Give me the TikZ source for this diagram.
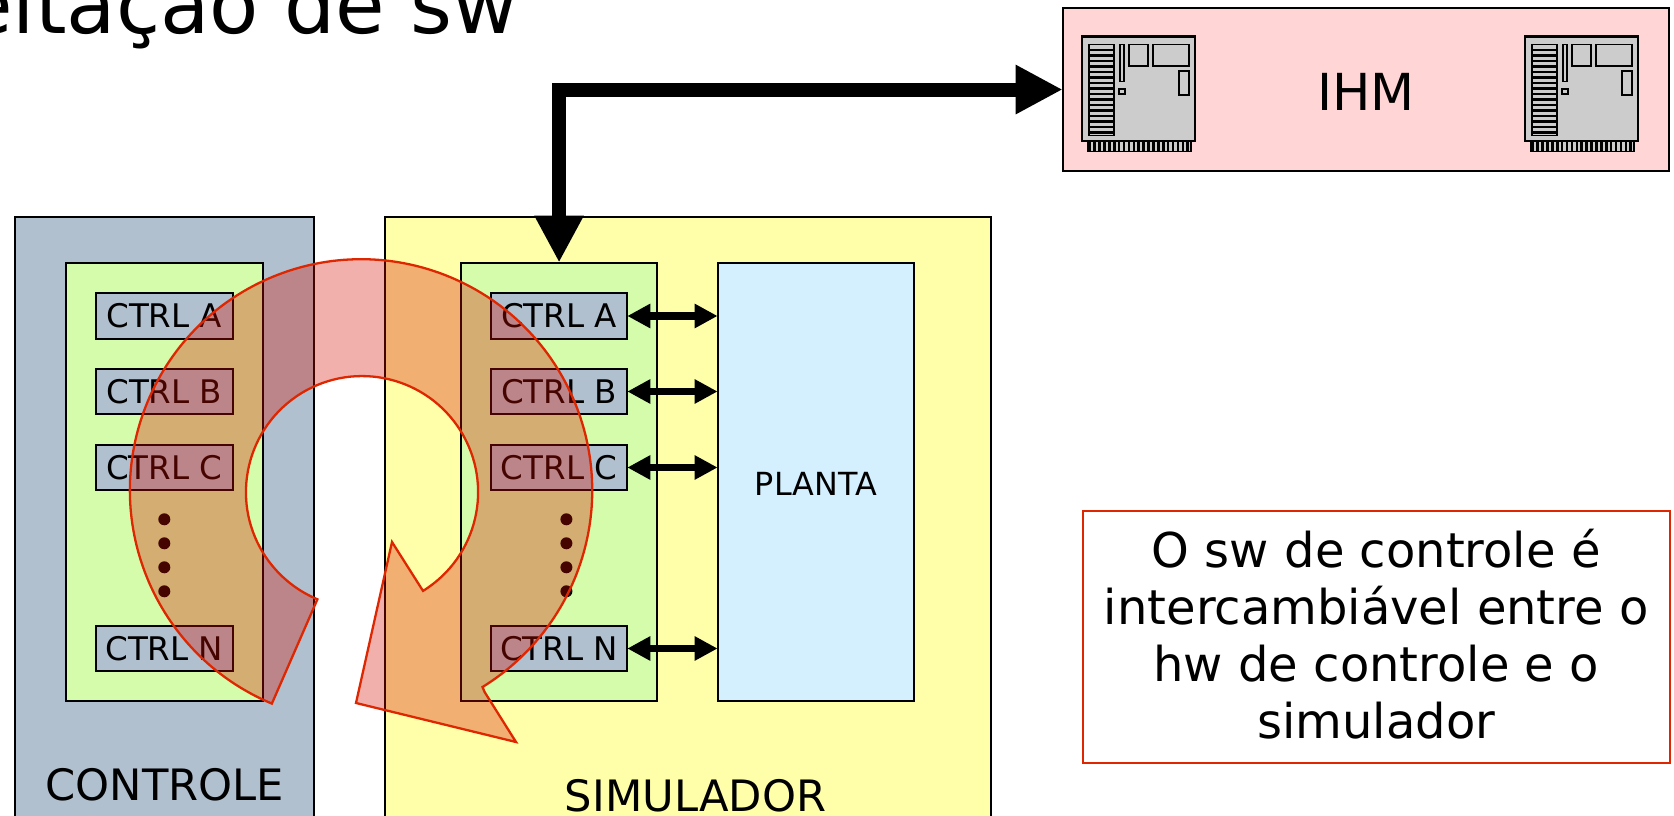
\documentclass[tikz,border=0pt]{standalone}
\usepackage{fontspec}
\setmainfont{DejaVu Sans}
\usetikzlibrary{calc, arrows.meta, positioning}
\definecolor{ctrlblue}{RGB}{177,192,207}
\definecolor{hwgreen}{RGB}{212,252,170}
\definecolor{simyellow}{RGB}{255,255,170}
\definecolor{ihmpink}{RGB}{255,213,213}
\definecolor{plantblue}{RGB}{212,240,255}
\definecolor{cardgray}{RGB}{204,204,204}
\definecolor{ringred}{RGB}{222,38,0}
\definecolor{ringfill}{RGB}{213,15,0}
\tikzset{
  boxbase/.style={draw=black, line width=0.55pt, inner sep=0pt, outer sep=0pt},
  ctrlbox/.style={boxbase, fill=ctrlblue, minimum width=1.365cm, minimum height=0.455cm, font=\fontsize{9.25}{11}\selectfont},
  biglabel/.style={inner sep=0pt, font=\fontsize{12.3}{15}\selectfont, anchor=base},
  linkarrow/.style={{Triangle[length=0.23cm,width=0.23cm]}-{Triangle[length=0.23cm,width=0.23cm]}, line width=2pt},
  busarrow/.style={{Triangle[length=0.47cm,width=0.46cm]}-{Triangle[length=0.47cm,width=0.46cm]}, line width=4pt},
  ringarrow/.style={draw=ringred, line width=0.65pt, fill=ringfill, fill opacity=0.33, line join=miter},
  cpucard/.pic={
    \draw[fill=cardgray, line width=0.55pt] (6,-104.7) rectangle (109,-115);
    \foreach \x in {8,12.9,...,108} {\draw[line width=0.75pt] (\x,-105) -- (\x,-114.6);}
    \draw[fill=cardgray, line width=0.6pt] (0,0) rectangle (113.6,-104.7);
    \draw[fill=cardgray, line width=0.55pt] (7.6,-8) rectangle (32.3,-99);
    \foreach \y in {-13.5,-19,...,-96} {\draw[line width=0.75pt] (7.6,\y) -- (32.3,\y);}
    \draw[line width=0.55pt] (38.3,-8) rectangle (42.6,-45);
    \draw[line width=0.55pt] (37.3,-52.3) rectangle (43.6,-57.7);
    \draw[line width=0.55pt] (47,-8) rectangle (66.3,-29.7);
    \draw[line width=0.55pt] (71.3,-8) rectangle (107,-29.7);
    \draw[line width=0.55pt] (97.3,-34.3) rectangle (107.3,-58.7);
  }
}
\begin{document}
\begin{tikzpicture}[x=0.01cm, y=0.01cm]
\path[use as bounding box, clip] (0,0) rectangle (1674,-816);
\node[anchor=base east, inner sep=0pt, font=\fontsize{22.9}{27}\selectfont] (titulo) at (519.5,-33.5) {eitação de sw};
% caixas
\node[boxbase, fill=ctrlblue, minimum width=2.99cm, minimum height=6.23cm, anchor=north west] (controle) at (15,-217) {};
\node[boxbase, fill=simyellow, minimum width=6.057cm, minimum height=6.23cm, anchor=north west] (simulador) at (385,-217) {};
\node[boxbase, fill=hwgreen, minimum width=1.967cm, minimum height=4.384cm, anchor=north west] (hwctrl) at (66,-262.6) {};
\node[boxbase, fill=hwgreen, minimum width=1.96cm, minimum height=4.384cm, anchor=north west] (hwsim) at (461,-262.6) {};
\node[boxbase, fill=plantblue, minimum width=1.966cm, minimum height=4.384cm, anchor=north west, text height=8pt, text depth=0pt, font=\fontsize{9.05}{11}\selectfont] (planta) at (717.6,-262.6) {PLANTA};
\foreach \n/\t/\y in {a/A/316, b/B/391.5, c/C/467.5, n/N/648.5} {
  \node[ctrlbox] (ctrl\n) at (164.3,-\y) {CTRL \t};
  \node[ctrlbox] (sim\n) at (559,-\y) {CTRL \t};
  \draw[linkarrow] (sim\n.east) -- (sim\n.east -| planta.west);
}
\foreach \y in {519.3,543.3,567.3,591.3} {
  \fill (164.3,-\y) circle (6);
  \fill (566.4,-\y) circle (6);
}
\node[biglabel] (lblcontrole) at (164.8,-800.5) {CONTROLE};
\node[biglabel] (lblsimulador) at (695.5,-811) {SIMULADOR};
% IHM
\node[boxbase, fill=ihmpink, minimum width=6.059cm, minimum height=1.63cm, anchor=north west, text height=12pt, text depth=0pt, font=\fontsize{14.5}{17}\selectfont] (ihm) at (1062.7,-8) {IHM};
\pic at (1081.7,-36.5) {cpucard};
\pic at (1524.7,-36.5) {cpucard};
\draw[busarrow] (ihm.west) -| (hwsim.north);
\node[draw=ringred, line width=0.55pt, inner sep=0pt, minimum width=5.87cm, minimum height=2.52cm, anchor=north west, align=center, font=\fontsize{13.65}{16.2}\selectfont] (nota) at (1081.6,-510) {O sw de controle é\\intercambiável entre o\\hw de controle e o\\simulador\rule[-1.7pt]{0pt}{0pt}};
% seta circular
\coordinate (centro) at (361,-490.5);
\coordinate (caudaout) at ($(centro)+(247.3:231)$);
\coordinate (pontaout) at (484.6,-692);
\coordinate (pontaa) at (516,-742);
\coordinate (pontab) at (356,-703);
\coordinate (pontac) at (392,-542);
\path[ringarrow] (caudaout) arc[start angle=247.3, end angle=-58.3, radius=2.31cm] -- (pontaout) -- (pontaa) -- (pontab) -- (pontac) -- ($(centro)+(-58.3:118)$) arc[start angle=-58.3, end angle=247.4, radius=1.16cm] -- cycle;
\end{tikzpicture}
\end{document}
